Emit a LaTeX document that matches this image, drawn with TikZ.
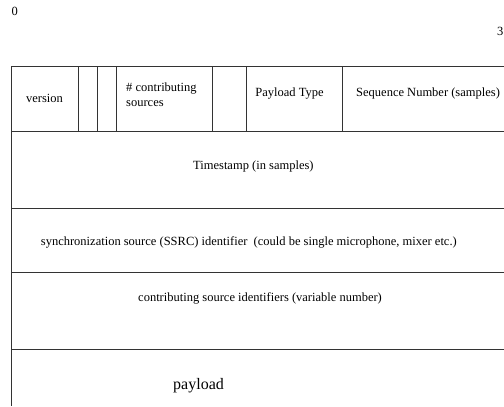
\documentclass[tikz,border=0pt]{standalone}
\usepackage{fontspec}
\setmainfont{Liberation Serif}
\begin{document}
\begin{tikzpicture}[x=1bp,y=-1bp,
  rule/.style={draw=black!80,line width=0.9bp},
  lbl/.style={inner sep=0pt,anchor=base west,font=\fontsize{12.5bp}{14bp}\selectfont},
  clbl/.style={lbl,anchor=base},
  big/.style={inner sep=0pt,anchor=base west,font=\fontsize{16bp}{18bp}\selectfont}]
\useasboundingbox (0,0) rectangle (504,406);
% table rules
\draw[rule] (11,66) -- (504,66);
\draw[rule] (11,131) -- (504,131);
\draw[rule] (11,208) -- (504,208);
\draw[rule] (11,272) -- (504,272);
\draw[rule] (11,349) -- (504,349);
\draw[rule] (11,66) -- (11,406);
\foreach \x in {78,97,116,212,246,342}
  \draw[rule] (\x,66) -- (\x,131);
% bit numbers
\node[lbl] (b0) at (11.5,15.5) {0};
\node[lbl] (b31) at (497,35) {31};
% header fields
\node[clbl] (ver) at (44.5,102) {version};
\node[lbl] (cc1) at (126,91.5) {\# contributing};
\node[lbl] (cc2) at (126,106.5) {sources};
\node[clbl] (pt) at (289.5,96.5) {Payload Type};
\node[lbl] (seq) at (356,96.5) {Sequence Number (samples)};
% rows
\node[lbl] (ts) at (193,169) {Timestamp (in samples)};
\node[lbl] (ssrc) at (40.7,245) {synchronization source (SSRC) identifier\ \ (could be single microphone, mixer etc.)};
\node[lbl] (csrc) at (138,301) {contributing source identifiers (variable number)};
\node[big] (pl) at (173,389) {payload};
\end{tikzpicture}
\end{document}
